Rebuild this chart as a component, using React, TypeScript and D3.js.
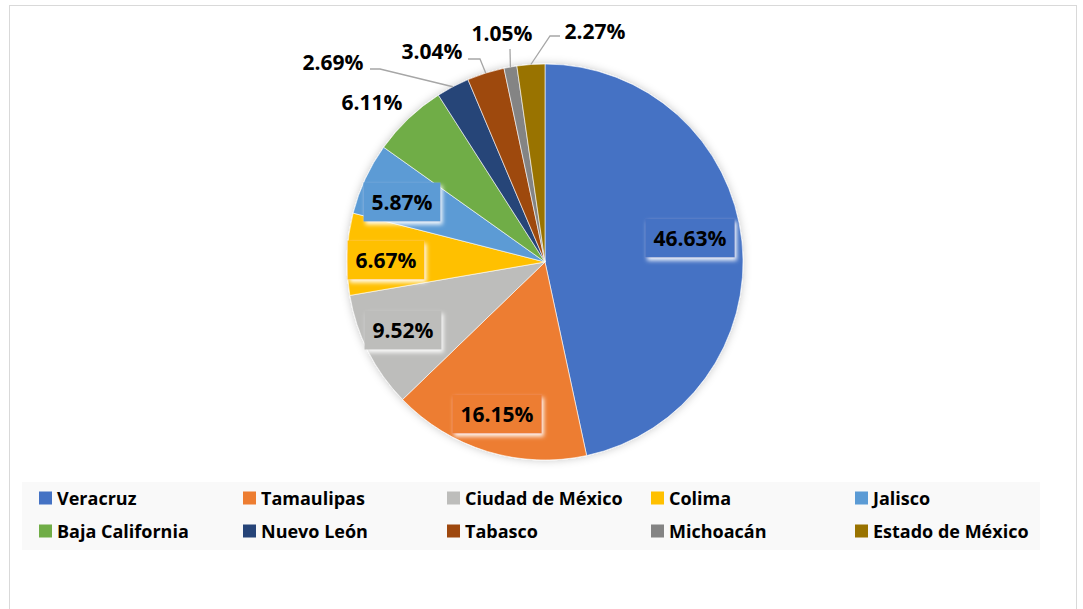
import React from "react";
import * as d3 from "d3";

const categories = [
  "Veracruz",
  "Tamaulipas",
  "Ciudad de México",
  "Colima",
  "Jalisco",
  "Baja California",
  "Nuevo León",
  "Tabasco",
  "Michoacán",
  "Estado de México",
];
const values = [46.63, 16.15, 9.52, 6.67, 5.87, 6.11, 2.69, 3.04, 1.05, 2.27];
const labels = ["46.63%", "16.15%", "9.52%", "6.67%", "5.87%", "6.11%", "2.69%", "3.04%", "1.05%", "2.27%"];
const colors = [
  "#4472C4",
  "#ED7D31",
  "#BDBDBB",
  "#FFC000",
  "#5B9BD5",
  "#70AD47",
  "#264478",
  "#9E480E",
  "#848484",
  "#997300",
];

// label layout (offsets from pie centre, in px)
type Lab = { dx: number; dy: number; inside: boolean; leader: [number, number][] | null };
const labelLayout: Lab[] = [
  { dx: 145, dy: -24, inside: true, leader: null },
  { dx: -48, dy: 152, inside: true, leader: null },
  { dx: -142, dy: 68, inside: true, leader: null },
  { dx: -159, dy: -2, inside: true, leader: null },
  { dx: -143, dy: -60, inside: true, leader: null },
  { dx: -173, dy: -160, inside: false, leader: null },
  { dx: -212, dy: -200, inside: false, leader: [[-165, -193], [-175, -193]] },
  { dx: -113, dy: -211, inside: false, leader: [[-65, -203], [-77, -203]] },
  { dx: -43, dy: -229, inside: false, leader: [[-35, -213]] },
  { dx: 50, dy: -231, inside: false, leader: [[5, -226], [15, -226]] },
];

const W = 1083;
const H = 609;
const cx = 545;
const cy = 262;
const R = 198;
const FONT = "'Open Sans', 'DejaVu Sans', sans-serif";

export default function App() {
  const pie = d3
    .pie<number>()
    .sort(null)
    .value((d) => d)
    .startAngle(0)
    .endAngle(2 * Math.PI);
  const arcs = pie(values);
  const arc = d3.arc<d3.PieArcDatum<number>>().innerRadius(0).outerRadius(R);

  const legendCols = 5;
  const colX = d3.scaleLinear().domain([0, 1]).range([39, 243]);
  const rowY = d3.scaleLinear().domain([0, 1]).range([498, 531]);

  return (
    <svg
      width={W}
      height={H}
      style={{ position: "absolute", left: 0, top: 0, background: "#fff" }}
    >
      <defs>
        <filter id="pieShadow" x="-20%" y="-20%" width="140%" height="140%">
          <feDropShadow dx="0" dy="0" stdDeviation="4" floodColor="#000" floodOpacity="0.22" />
        </filter>
        <filter id="glow" x="-30%" y="-40%" width="160%" height="180%">
          <feDropShadow dx="2" dy="3" stdDeviation="2" floodColor="#fff" floodOpacity="0.95" />
        </filter>
      </defs>
      <rect x={0} y={0} width={W} height={H} fill="#fff" />
      <rect x={9.5} y={5.5} width={1067} height={640} fill="#fff" stroke="#d9d9d9" strokeWidth={1} />

      <g transform={`translate(${cx},${cy})`}>
        <g filter="url(#pieShadow)">
          {arcs.map((a, i) => (
            <path key={i} d={arc(a) || ""} fill={colors[i]} stroke="#fff" strokeWidth={0.6} />
          ))}
        </g>
        {arcs.map((a, i) => {
          const lay = labelLayout[i];
          if (lay.leader) {
            const mid = (a.startAngle + a.endAngle) / 2;
            const pts: [number, number][] = [[R * Math.sin(mid), -R * Math.cos(mid)], ...lay.leader];
            return (
              <path
                key={"l" + i}
                d={d3.line()(pts) || ""}
                fill="none"
                stroke="#a6a6a6"
                strokeWidth={1.3}
              />
            );
          }
          return null;
        })}
        {arcs.map((a, i) => {
          const lay = labelLayout[i];
          const tw = labels[i].length * 12.6;
          return (
            <g key={"t" + i}>
              {lay.inside && (
                <rect
                  x={lay.dx - tw / 2 - 7}
                  y={lay.dy - 19.5}
                  width={tw + 14}
                  height={39}
                  fill={colors[i]}
                  filter="url(#glow)"
                />
              )}
              <text
                x={lay.dx}
                y={lay.dy}
                textAnchor="middle"
                dominantBaseline="central"
                fontFamily={FONT}
                fontWeight={700}
                fontSize={21}
                fill="#000"
              >
                {labels[i]}
              </text>
            </g>
          );
        })}
      </g>

      <rect x={22} y={482} width={1018} height={68} fill="#f9f9f9" />
      {categories.map((c, i) => {
        const col = i % legendCols;
        const row = Math.floor(i / legendCols);
        const x = colX(col);
        const y = rowY(row);
        return (
          <g key={"lg" + i}>
            <rect x={x} y={y - 6.5} width={13} height={13} fill={colors[i]} />
            <text
              x={x + 18}
              y={y}
              dominantBaseline="central"
              fontFamily={FONT}
              fontWeight={700}
              fontSize={18}
              fill="#000"
            >
              {c}
            </text>
          </g>
        );
      })}
    </svg>
  );
}
